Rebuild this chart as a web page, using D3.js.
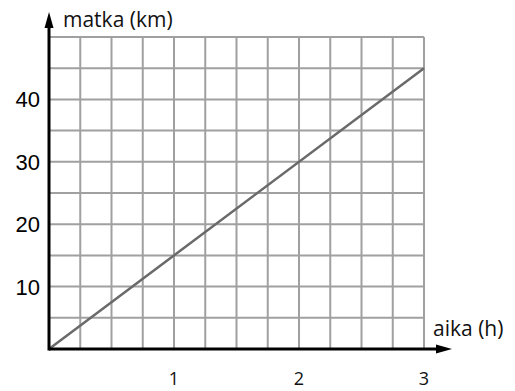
<!DOCTYPE html>
<html>
<head>
<meta charset="utf-8">
<script src="https://cdn.jsdelivr.net/npm/d3@7"></script>
<style>
  body { margin: 0; background: #fff; }
  svg { display: block; }
</style>
</head>
<body>
<div id="chart"></div>
<script>
// data: distance travelled vs time
var hours = [0, 3];
var km = [0, 45];

var xTickValues = [1, 2, 3];
var yTickValues = [10, 20, 30, 40];
var xTitle = "aika (h)";
var yTitle = "matka (km)";

var width = 515, height = 391;

var svg = d3.select("#chart").append("svg")
  .attr("width", width)
  .attr("height", height);

// 12 columns x 10 rows of grid
var x = d3.scaleLinear().domain([0, 3]).range([49, 424]);
var y = d3.scaleLinear().domain([0, 50]).range([349, 37]);

//-- grid
var gridColor = "#a0a0a0";
var grid = svg.append("g").attr("class", "grid");

grid.selectAll(".vline").data(d3.range(1, 13).map(function (i) { return i * 0.25; }))
  .enter().append("line")
  .attr("class", "vline")
  .attr("x1", function (d) { return x(d); })
  .attr("x2", function (d) { return x(d); })
  .attr("y1", y(0))
  .attr("y2", y(50))
  .attr("stroke", gridColor)
  .attr("stroke-width", 2);

grid.selectAll(".hline").data(d3.range(1, 11).map(function (i) { return i * 5; }))
  .enter().append("line")
  .attr("class", "hline")
  .attr("x1", x(0))
  .attr("x2", x(3))
  .attr("y1", function (d) { return y(d); })
  .attr("y2", function (d) { return y(d); })
  .attr("stroke", gridColor)
  .attr("stroke-width", 2);

//-- data line
var line = d3.line()
  .x(function (d) { return x(d[0]); })
  .y(function (d) { return y(d[1]); });

svg.append("path")
  .datum(d3.zip(hours, km))
  .attr("d", line)
  .attr("fill", "none")
  .attr("stroke", "#6a6a6a")
  .attr("stroke-width", 2.5);

//-- axes with arrows
var axisG = svg.append("g").attr("class", "axes");
axisG.append("line")
  .attr("x1", x(0)).attr("x2", 440)
  .attr("y1", y(0)).attr("y2", y(0))
  .attr("stroke", "#000").attr("stroke-width", 3);
axisG.append("polygon")
  .attr("points", [436, y(0) - 4.5, 452, y(0), 436, y(0) + 4.5].join(","))
  .attr("fill", "#000");

axisG.append("line")
  .attr("x1", x(0)).attr("x2", x(0))
  .attr("y1", y(0) + 1.5).attr("y2", 24)
  .attr("stroke", "#000").attr("stroke-width", 3);
axisG.append("polygon")
  .attr("points", [x(0) - 4.5, 28, x(0), 12, x(0) + 4.5, 28].join(","))
  .attr("fill", "#000");

//-- tick labels
svg.selectAll(".ylab").data(yTickValues)
  .enter().append("text")
  .attr("class", "ylab")
  .attr("x", 40)
  .attr("y", function (d) { return y(d); })
  .attr("dy", "0.36em")
  .attr("text-anchor", "end")
  .attr("font-family", "Liberation Sans, Arial, sans-serif")
  .attr("font-size", 22)
  .attr("fill", "#000")
  .text(function (d) { return d; });

svg.selectAll(".xlab").data(xTickValues)
  .enter().append("text")
  .attr("class", "xlab")
  .attr("x", function (d) { return x(d); })
  .attr("y", 385)
  .attr("text-anchor", "middle")
  .attr("font-family", "Open Sans, sans-serif")
  .attr("font-size", 18)
  .attr("fill", "#111")
  .text(function (d) { return d; });

//-- axis titles
svg.append("text")
  .attr("x", 63).attr("y", 27)
  .attr("font-family", "Open Sans, sans-serif")
  .attr("font-size", 21)
  .attr("fill", "#111")
  .text(yTitle);

svg.append("text")
  .attr("x", 433).attr("y", 336)
  .attr("font-family", "Open Sans, sans-serif")
  .attr("font-size", 21)
  .attr("fill", "#111")
  .text(xTitle);
</script>
</body>
</html>
